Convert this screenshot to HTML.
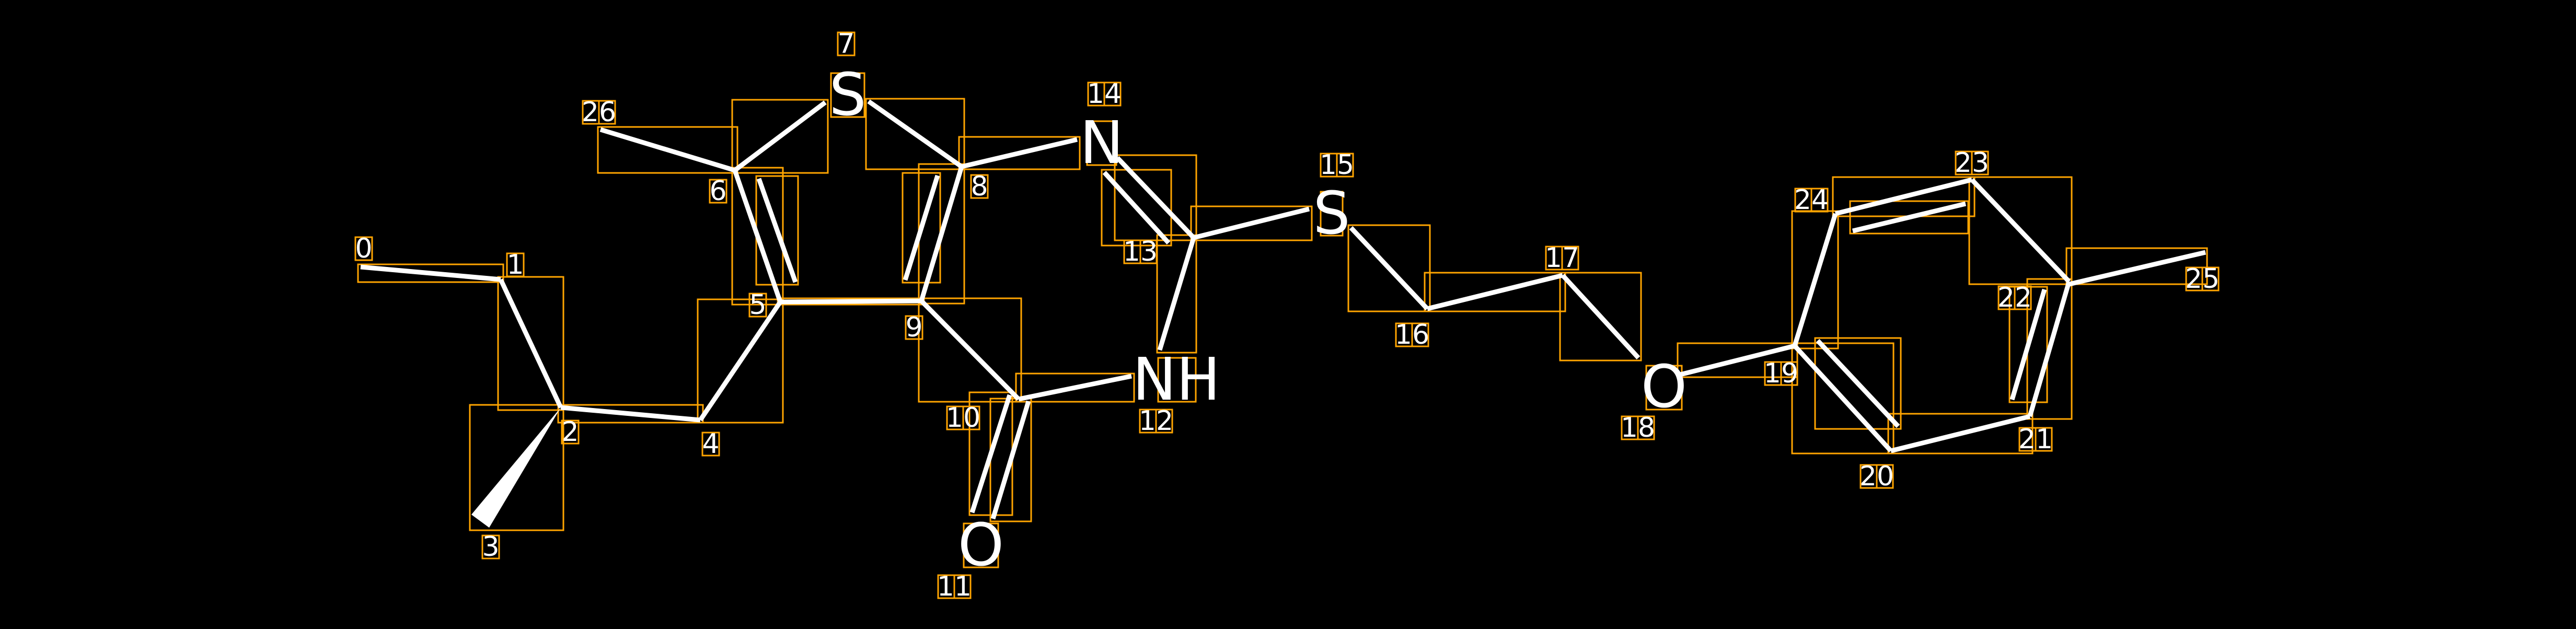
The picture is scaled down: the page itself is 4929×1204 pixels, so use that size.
<!DOCTYPE html>
<html><head><meta charset="utf-8"><style>
html,body{margin:0;padding:0;background:#000;width:4929px;height:1204px;overflow:hidden}
svg{display:block}
.b{stroke:#fff;stroke-width:9;stroke-linecap:butt}
.r{fill:none;stroke:#FFA500;stroke-width:3}
.a{font-family:"DejaVu Sans","Liberation Sans",sans-serif;font-size:112px;fill:#fff;text-anchor:middle;dominant-baseline:central}
.i{font-family:"DejaVu Sans","Liberation Sans",sans-serif;font-size:52px;fill:#fff;text-anchor:middle;dominant-baseline:central}
</style></head><body>
<svg width="4929" height="1204" viewBox="0 0 4929 1204" xmlns="http://www.w3.org/2000/svg">
<rect width="4929" height="1204" fill="#000"/>
<g class="r">
<rect x="685" y="506" width="278" height="34"/>
<rect x="953" y="530" width="125" height="255"/>
<rect x="899" y="775" width="179" height="240"/>
<rect x="1068" y="775" width="277" height="34"/>
<rect x="1335" y="573" width="163" height="236"/>
<rect x="1401" y="321" width="97" height="262"/>
<rect x="1447" y="337" width="80" height="208"/>
<rect x="1144" y="243" width="267" height="88"/>
<rect x="1401" y="191" width="183" height="140"/>
<rect x="1657" y="189" width="188" height="135"/>
<rect x="1835" y="262" width="231" height="62"/>
<rect x="1758" y="314" width="87" height="267"/>
<rect x="1727" y="331" width="72" height="210"/>
<rect x="1488" y="571" width="280" height="12"/>
<rect x="1758" y="571" width="196" height="198"/>
<rect x="1944" y="715" width="226" height="54"/>
<rect x="1855" y="751" width="82" height="235"/>
<rect x="1895" y="763" width="78" height="235"/>
<rect x="2133" y="297" width="156" height="163"/>
<rect x="2108" y="325" width="133" height="145"/>
<rect x="2214" y="450" width="75" height="225"/>
<rect x="2279" y="395" width="231" height="65"/>
<rect x="2580" y="431" width="156" height="165"/>
<rect x="2726" y="522" width="269" height="74"/>
<rect x="2985" y="522" width="155" height="168"/>
<rect x="3210" y="657" width="229" height="65"/>
<rect x="3429" y="657" width="194" height="211"/>
<rect x="3473" y="647" width="164" height="174"/>
<rect x="3613" y="792" width="276" height="76"/>
<rect x="3879" y="534" width="85" height="268"/>
<rect x="3845" y="549" width="72" height="221"/>
<rect x="3768" y="339" width="196" height="205"/>
<rect x="3507" y="339" width="271" height="75"/>
<rect x="3540" y="385" width="226" height="62"/>
<rect x="3429" y="404" width="88" height="263"/>
<rect x="3954" y="475" width="269" height="69"/>
<rect x="1590" y="140" width="64" height="84"/>
<rect x="2080" y="232" width="56" height="84"/>
<rect x="2216" y="685" width="72" height="84"/>
<rect x="1844" y="1002" width="66" height="84"/>
<rect x="2527" y="367" width="42" height="84"/>
<rect x="3150" y="700" width="68" height="84"/>
<rect x="680" y="454" width="32" height="44"/>
<rect x="970" y="485" width="32" height="44"/>
<rect x="1075" y="805" width="32" height="44"/>
<rect x="923" y="1025" width="32" height="44"/>
<rect x="1344" y="828" width="32" height="44"/>
<rect x="1434" y="562" width="32" height="44"/>
<rect x="1358" y="344" width="32" height="44"/>
<rect x="1603" y="62" width="32" height="44"/>
<rect x="1858" y="335" width="32" height="44"/>
<rect x="1733" y="605" width="32" height="44"/>
<rect x="1812" y="778" width="31" height="44"/><rect x="1843" y="778" width="31" height="44"/>
<rect x="1795" y="1101" width="31" height="44"/><rect x="1826" y="1101" width="31" height="44"/>
<rect x="2181" y="784" width="31" height="44"/><rect x="2212" y="784" width="31" height="44"/>
<rect x="2151" y="460" width="31" height="44"/><rect x="2182" y="460" width="31" height="44"/>
<rect x="2082" y="158" width="31" height="44"/><rect x="2113" y="158" width="31" height="44"/>
<rect x="2527" y="294" width="31" height="44"/><rect x="2558" y="294" width="31" height="44"/>
<rect x="2671" y="619" width="31" height="44"/><rect x="2702" y="619" width="31" height="44"/>
<rect x="2958" y="472" width="31" height="44"/><rect x="2989" y="472" width="31" height="44"/>
<rect x="3103" y="797" width="31" height="44"/><rect x="3134" y="797" width="31" height="44"/>
<rect x="3377" y="693" width="31" height="44"/><rect x="3408" y="693" width="31" height="44"/>
<rect x="3560" y="890" width="31" height="44"/><rect x="3591" y="890" width="31" height="44"/>
<rect x="3864" y="819" width="31" height="44"/><rect x="3895" y="819" width="31" height="44"/>
<rect x="3824" y="548" width="31" height="44"/><rect x="3855" y="548" width="31" height="44"/>
<rect x="3742" y="290" width="31" height="44"/><rect x="3773" y="290" width="31" height="44"/>
<rect x="3435" y="361" width="31" height="44"/><rect x="3466" y="361" width="31" height="44"/>
<rect x="4183" y="512" width="31" height="44"/><rect x="4214" y="512" width="31" height="44"/>
<rect x="1115" y="193" width="31" height="44"/><rect x="1146" y="193" width="31" height="44"/>
</g>
<g class="b">
<line x1="690" y1="511" x2="958" y2="535"/>
<line x1="958" y1="535" x2="1073" y2="780"/>
<line x1="1073" y1="780" x2="1340" y2="804"/>
<line x1="1340" y1="804" x2="1493" y2="578"/>
<line x1="1493" y1="578" x2="1406" y2="326"/>
<line x1="1452" y1="342" x2="1522" y2="540"/>
<line x1="1406" y1="326" x2="1149" y2="248"/>
<line x1="1406" y1="326" x2="1579" y2="196"/>
<line x1="1662" y1="194" x2="1840" y2="319"/>
<line x1="1840" y1="319" x2="2061" y2="267"/>
<line x1="1840" y1="319" x2="1763" y2="576"/>
<line x1="1794" y1="336" x2="1732" y2="536"/>
<line x1="1493" y1="578" x2="1763" y2="576"/>
<line x1="1763" y1="576" x2="1949" y2="764"/>
<line x1="1949" y1="764" x2="2165" y2="720"/>
<line x1="1932" y1="756" x2="1860" y2="981"/>
<line x1="1968" y1="768" x2="1900" y2="993"/>
<line x1="2138" y1="302" x2="2284" y2="455"/>
<line x1="2113" y1="330" x2="2236" y2="465"/>
<line x1="2284" y1="455" x2="2219" y2="670"/>
<line x1="2284" y1="455" x2="2505" y2="400"/>
<line x1="2585" y1="436" x2="2731" y2="591"/>
<line x1="2731" y1="591" x2="2990" y2="527"/>
<line x1="2990" y1="527" x2="3135" y2="685"/>
<line x1="3215" y1="717" x2="3434" y2="662"/>
<line x1="3434" y1="662" x2="3618" y2="863"/>
<line x1="3478" y1="652" x2="3632" y2="816"/>
<line x1="3618" y1="863" x2="3884" y2="797"/>
<line x1="3884" y1="797" x2="3959" y2="539"/>
<line x1="3850" y1="765" x2="3912" y2="554"/>
<line x1="3959" y1="539" x2="3773" y2="344"/>
<line x1="3773" y1="344" x2="3512" y2="409"/>
<line x1="3545" y1="442" x2="3761" y2="390"/>
<line x1="3512" y1="409" x2="3434" y2="662"/>
<line x1="3959" y1="544" x2="4220" y2="483"/>
</g>
<polygon points="1073,780 902,985 936,1010" fill="#fff"/>
<g class="a">
<text x="1622" y="182">S</text>
<text x="2108" y="274">N</text>
<text x="2251" y="727">NH</text>
<text x="1877" y="1044">O</text>
<text x="2548" y="409">S</text>
<text x="3184" y="741">O</text>
</g>
<g class="i">
<text x="696" y="476">0</text>
<text x="986" y="507">1</text>
<text x="1091" y="827">2</text>
<text x="939" y="1047">3</text>
<text x="1360" y="850">4</text>
<text x="1450" y="584">5</text>
<text x="1374" y="366">6</text>
<text x="1619" y="84">7</text>
<text x="1874" y="357">8</text>
<text x="1749" y="627">9</text>
<text x="1843" y="800">10</text>
<text x="1826" y="1123">11</text>
<text x="2212" y="806">12</text>
<text x="2182" y="482">13</text>
<text x="2113" y="180">14</text>
<text x="2558" y="316">15</text>
<text x="2702" y="641">16</text>
<text x="2989" y="494">17</text>
<text x="3134" y="819">18</text>
<text x="3408" y="715">19</text>
<text x="3591" y="912">20</text>
<text x="3895" y="841">21</text>
<text x="3855" y="570">22</text>
<text x="3773" y="312">23</text>
<text x="3466" y="383">24</text>
<text x="4214" y="534">25</text>
<text x="1146" y="215">26</text>
</g>
</svg>
</body></html>
